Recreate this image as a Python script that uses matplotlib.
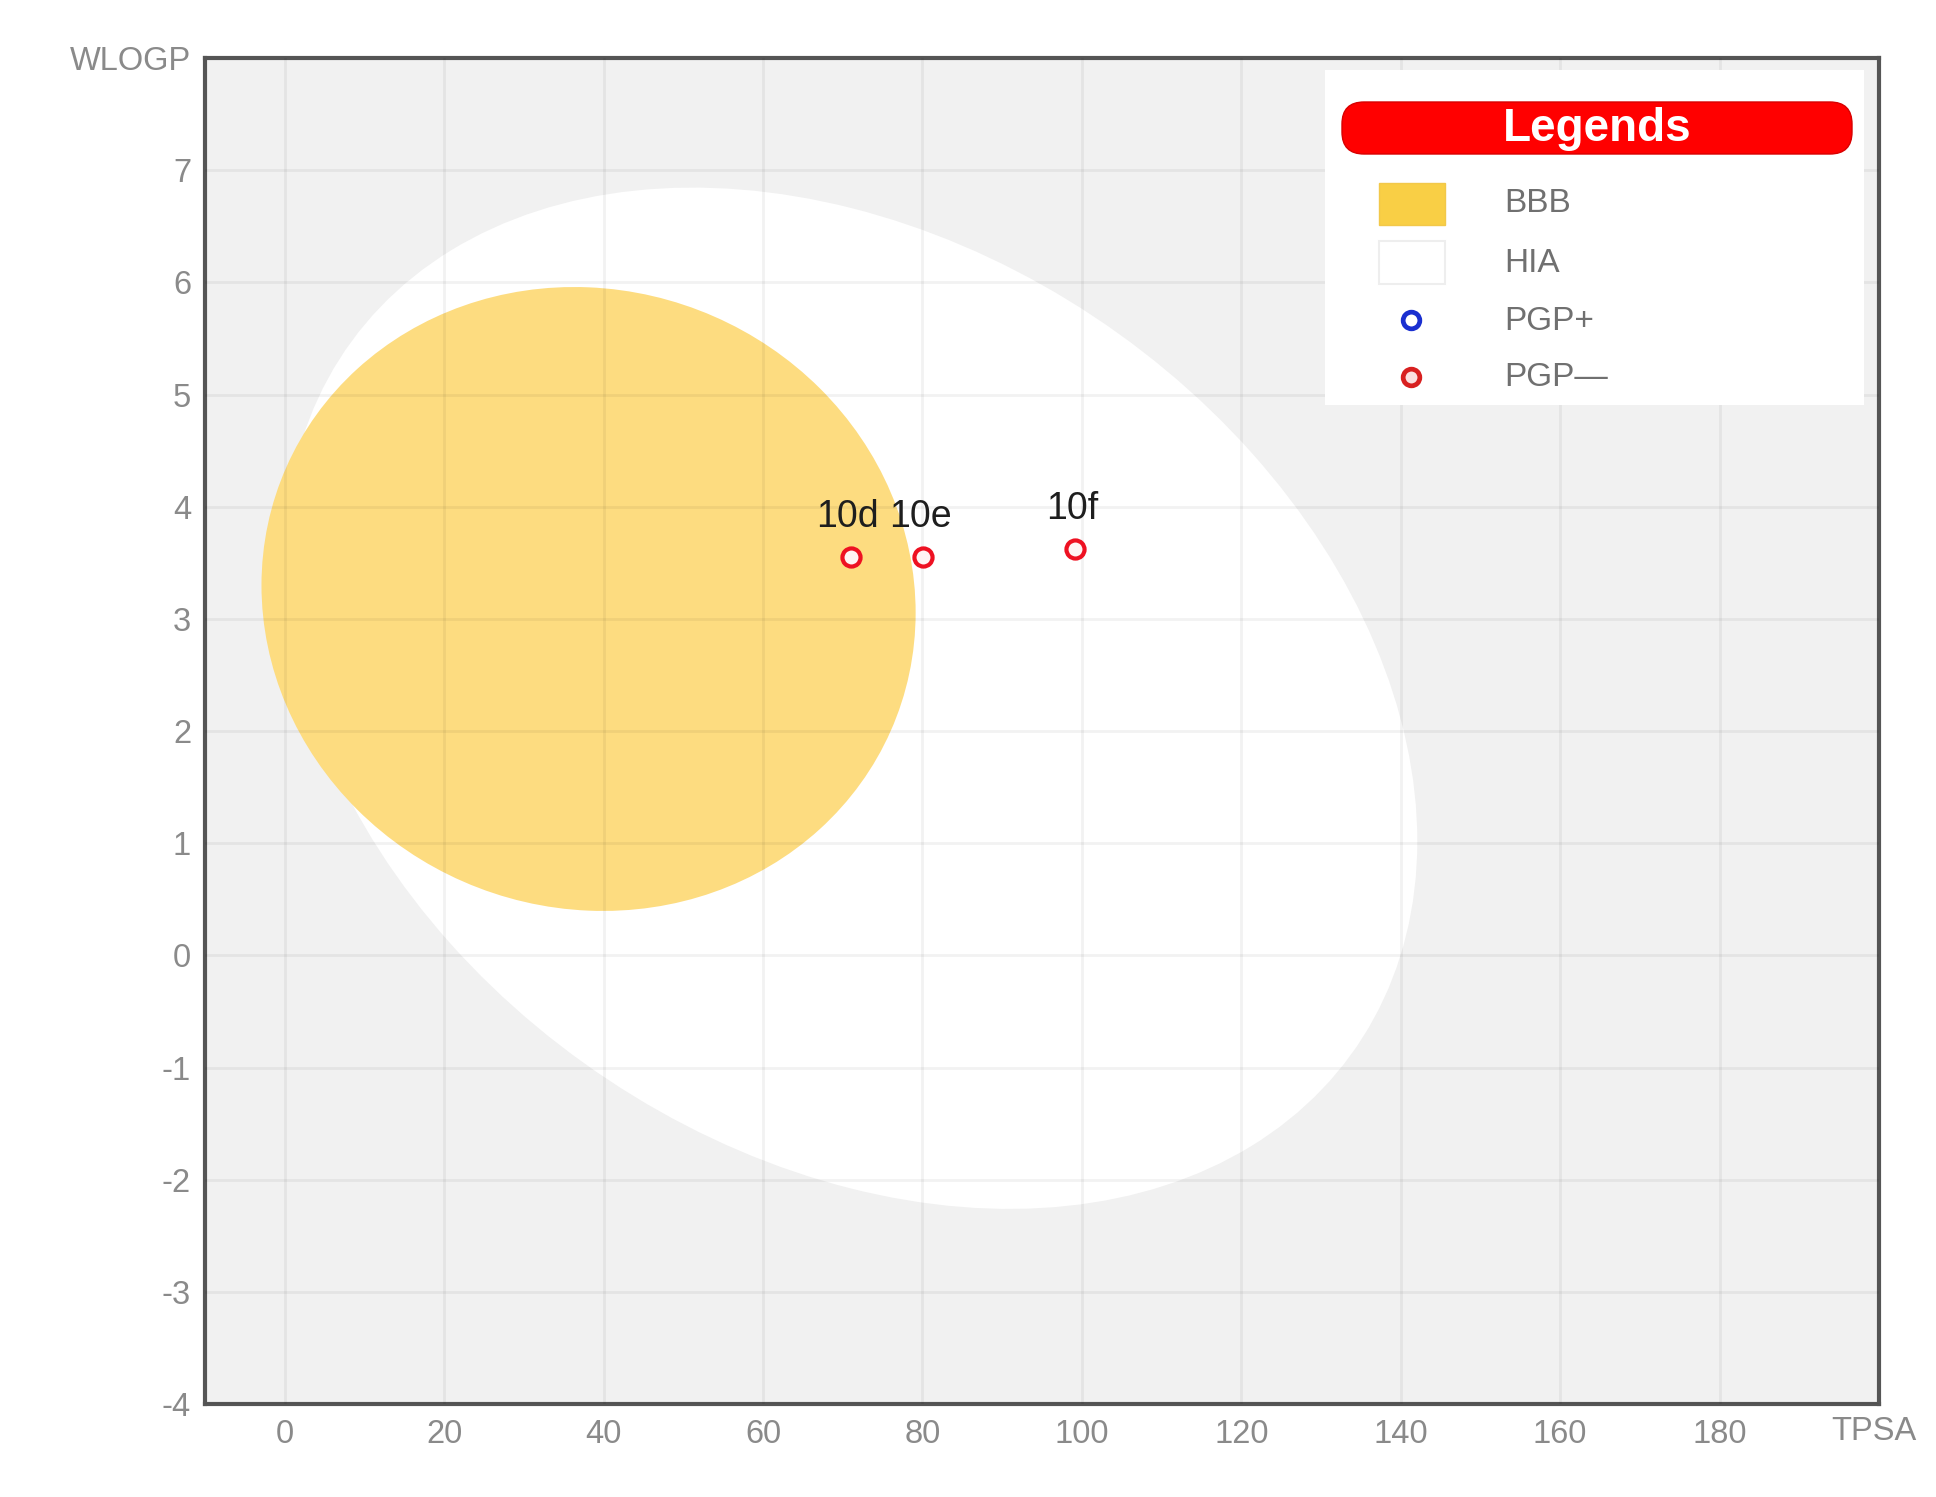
import matplotlib.pyplot as plt
from matplotlib.patches import Ellipse, FancyBboxPatch, Rectangle

plt.rcParams['font.family'] = ['Liberation Sans', 'DejaVu Sans']
plt.rcParams['axes.unicode_minus'] = False

# BOILED-Egg regions: centre (TPSA, WLOGP), full width/height, tilt (degrees)
hia_center = (71.051, 2.292)
hia_size = (142.081, 8.740)
hia_angle = -1.031325
bbb_center = (38.117, 3.177)
bbb_size = (82.061, 5.557)
bbb_angle = -0.171887

# compounds
compounds = ['10d', '10e', '10f']
tpsa = [71.0, 80.1, 99.1]
wlogp = [3.55, 3.55, 3.62]

x_ticks = list(range(0, 181, 20))
y_ticks = list(range(-4, 8))
legend_labels = ['BBB', 'HIA', 'PGP+', 'PGP\u2014']

RED = '#ee1122'
BLUE = '#1a2fd0'
YOLK = '#fddc80'
TICK_GREY = '#8a8a8a'

fig = plt.figure(figsize=(19.36, 14.97), dpi=100)
ax = fig.add_axes([205 / 1936, 1 - 1404 / 1497, 1674 / 1936, 1346 / 1497])
ax.set_facecolor('#f1f1f1')

ax.add_patch(Ellipse(hia_center, hia_size[0], hia_size[1], angle=hia_angle,
                     fc='white', ec='none', zorder=1))
ax.add_patch(Ellipse(bbb_center, bbb_size[0], bbb_size[1], angle=bbb_angle,
                     fc=YOLK, ec='none', zorder=2))

ax.scatter(tpsa, wlogp, s=170, facecolors='#fff4f4', edgecolors=RED,
           linewidths=3, zorder=5)
for name, x, y in zip(compounds, tpsa, wlogp):
    ax.annotate(name, (x, y), xytext=(-2, 22), textcoords='offset points',
                ha='center', va='baseline', fontsize=27, color='#1e1e1e',
                zorder=6)

ax.set_xlim(-10, 200)
ax.set_ylim(-4, 8)
ax.set_xticks(x_ticks)
ax.set_yticks(y_ticks)
ax.set_axisbelow(False)
ax.grid(True, color='black', alpha=0.05, lw=2)
ax.tick_params(length=0, labelsize=23.5, labelcolor=TICK_GREY)
ax.tick_params(axis='x', pad=11)
ax.tick_params(axis='y', pad=10)
for s in ax.spines.values():
    s.set_color('#555555')
    s.set_linewidth(3)

fig.text(191 / 1936, 1 - 62 / 1497, 'WLOGP', ha='right', va='center',
         fontsize=23.5, color=TICK_GREY)
fig.text(1831 / 1936, 1 - 1432 / 1497, 'TPSA', ha='left', va='center',
         fontsize=23.5, color=TICK_GREY)

# legend box drawn by hand, local pixel units
lax = fig.add_axes([1325 / 1936, 1 - 405 / 1497, 539 / 1936, 335 / 1497])
lax.set_xlim(0, 539)
lax.set_ylim(335, 0)
lax.axis('off')
lax.add_patch(Rectangle((0, 0), 539, 335, fc='white', ec='none'))
lax.add_patch(FancyBboxPatch((17, 32), 510, 52,
                             boxstyle='round,pad=0,rounding_size=22',
                             fc='#ff0000', ec='#d80000', lw=1))
lax.text(272, 59, 'Legends', ha='center', va='center', color='white',
         fontsize=33, fontweight='bold')

lax.add_patch(Rectangle((54, 113), 66, 42, fc='#f9cf45', ec='#f2c84a', lw=1))
lax.add_patch(Rectangle((54, 171), 66, 43, fc='white', ec='#eeeeee', lw=1.5))
lax.plot([86], [250], 'o', ms=12, mfc='white', mec=BLUE, mew=3.4)
lax.plot([86], [307], 'o', ms=12, mfc='#fbe0e0', mec='#d82020', mew=3.4)
for label, y in zip(legend_labels, [134, 193, 251, 308]):
    lax.text(179, y, label, ha='left', va='center', fontsize=24, color='#707070')

fig.savefig('out.png', dpi=100, facecolor='white')
